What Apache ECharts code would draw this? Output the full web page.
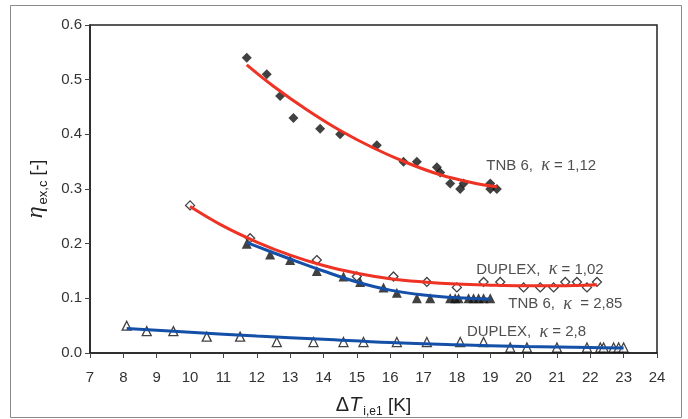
<!DOCTYPE html>
<html><head><meta charset="utf-8">
<script src="https://cdn.jsdelivr.net/npm/echarts@6/dist/echarts.min.js"></script>
<style>html,body{margin:0;padding:0;background:#fff}#c{width:688px;height:419px}</style>
</head><body><div id="c"></div>
<script>
// ---- data ----
const xTicks = [7,8,9,10,11,12,13,14,15,16,17,18,19,20,21,22,23,24];
const yTicks = [0.0,0.1,0.2,0.3,0.4,0.5,0.6];

// TNB 6, kappa = 1,12 (filled diamonds)
const tnb112X = [11.7,12.3,12.7,13.1,13.9,14.5,15.6,16.4,16.8,17.4,17.5,17.8,18.1,18.2,19.0,19.0,19.2];
const tnb112Y = [0.54,0.51,0.47,0.43,0.41,0.40,0.38,0.35,0.35,0.34,0.33,0.31,0.30,0.31,0.31,0.30,0.30];
// DUPLEX, kappa = 1,02 (open diamonds)
const dup102X = [10.0,11.8,13.8,15.0,16.1,17.1,18.0,18.8,19.3,20.0,20.5,20.9,21.25,21.6,21.9,22.2];
const dup102Y = [0.27,0.21,0.17,0.14,0.14,0.13,0.12,0.13,0.13,0.12,0.12,0.12,0.13,0.13,0.12,0.13];
// TNB 6, kappa = 2,85 (filled triangles)
const tnb285X = [11.7,12.4,13.0,13.8,14.6,15.1,15.8,16.2,16.8,17.2,17.8,17.95,18.05,18.35,18.5,18.65,18.8,19.0];
const tnb285Y = [0.20,0.18,0.17,0.15,0.14,0.13,0.12,0.11,0.10,0.10,0.10,0.10,0.10,0.10,0.10,0.10,0.10,0.10];
// DUPLEX, kappa = 2,8 (open triangles)
const dup28X = [8.1,8.7,9.5,10.5,11.5,12.6,13.7,14.6,15.2,16.2,17.1,18.1,18.8,19.6,20.1,21.0,21.9,22.3,22.4,22.7,22.85,23.0];
const dup28Y = [0.05,0.04,0.04,0.03,0.03,0.02,0.02,0.02,0.02,0.02,0.02,0.02,0.02,0.01,0.01,0.01,0.01,0.01,0.01,0.01,0.01,0.01];

// trend curves
const fit112X = [11.7,12.5,13.5,14.5,15.5,16.5,17.5,18.5,19.2];
const fit112Y = [0.527,0.488,0.445,0.407,0.375,0.348,0.326,0.311,0.304];
const fit102X = [10.0,11,12,13,14,15,16,17,18,19,20,21,22.2];
const fit102Y = [0.268,0.232,0.203,0.179,0.160,0.146,0.136,0.130,0.126,0.124,0.123,0.123,0.125];
const fit285X = [11.7,12,13,14,15,16,17,18,19.0];
const fit285Y = [0.202,0.195,0.172,0.150,0.130,0.115,0.106,0.101,0.099];
const fit28X = [8.1,10,12,14,16,18,20,22,23.0];
const fit28Y = [0.045,0.038,0.031,0.025,0.019,0.015,0.012,0.010,0.009];

// curve labels
const labelText = ['TNB 6,  ', 'DUPLEX,  ', 'TNB 6,  ', 'DUPLEX,  '];
const labelK = [' = 1,12', ' = 1,02', '  = 2,85', ' = 2,8'];
const labelX = [18.88, 18.58, 19.54, 18.3];
const labelY = [0.343, 0.153, 0.089, 0.038];

const zip = (a, b) => a.map((v, i) => [v, b[i]]);
const RED = '#ee3224', BLUE = '#1450a8';
const rich = {
  a: {fontFamily: 'Liberation Sans', fontSize: 15, color: '#222'},
  k: {fontFamily: 'Liberation Serif', fontStyle: 'italic', fontSize: 18, color: '#222'}
};

const chart = echarts.init(document.getElementById('c'), null, {renderer: 'canvas'});
function scatter(x, y, symbol, size, filled) {
  return {
    type: 'scatter', data: zip(x, y), symbol: symbol, symbolSize: size, z: 3,
    itemStyle: {color: filled ? '#111' : '#fff', borderColor: '#111', borderWidth: filled ? 0 : 1.3},
    emphasis: {disabled: true}
  };
}
function curve(x, y, color) {
  return {
    type: 'line', data: zip(x, y), smooth: 0.4, showSymbol: false, symbol: 'none', z: 4,
    lineStyle: {color: color, width: 3}, emphasis: {disabled: true}
  };
}
const labelSeries = {
  type: 'scatter', symbolSize: 0, z: 5, silent: true,
  data: labelX.map((x, i) => [x, labelY[i]]),
  label: {
    show: true, position: 'right', distance: 0,
    formatter: p => '{a|' + labelText[p.dataIndex] + '}{k|κ}{a|' + labelK[p.dataIndex] + '}',
    rich: rich
  }
};

chart.setOption({
  animation: false,
  backgroundColor: '#fff',
  grid: {left: 90, right: 31, top: 25, bottom: 66, containLabel: false, outerBoundsMode: 'none',
    show: true, borderColor: '#222', borderWidth: 1.5, backgroundColor: 'transparent'},
  xAxis: {
    type: 'value', min: 7, max: 24, interval: 1,
    name: '{d|Δ}{t|T}{s|i,e1}{b| [K]}', nameLocation: 'middle', nameGap: 36,
    nameTextStyle: {
      rich: {
        d: {fontFamily: 'Liberation Sans', fontSize: 20, color: '#222', lineHeight: 26, verticalAlign: 'bottom'},
        t: {fontFamily: 'Liberation Sans', fontStyle: 'italic', fontSize: 20, color: '#222', lineHeight: 26, verticalAlign: 'bottom'},
        s: {fontFamily: 'Liberation Sans', fontSize: 12, color: '#222', lineHeight: 16, verticalAlign: 'bottom', padding: [0, 0, -3, 2]},
        b: {fontFamily: 'Liberation Sans', fontSize: 19, color: '#222', lineHeight: 26, verticalAlign: 'bottom'}
      }
    },
    axisLine: {show: true, onZero: false, lineStyle: {color: '#222', width: 1.5}},
    axisTick: {show: true, inside: false, length: 5, lineStyle: {color: '#444', width: 1}},
    axisLabel: {margin: 17, color: '#333', fontFamily: 'Liberation Sans', fontSize: 15,
      formatter: v => xTicks.includes(v) ? String(v) : ''},
    splitLine: {show: false}
  },
  yAxis: {
    type: 'value', min: 0, max: 0.6, interval: 0.1,
    name: '{e|η}{s|ex,c}{b| [-]}', nameLocation: 'middle', nameGap: 42, nameRotate: 90,
    nameTextStyle: {
      rich: {
        e: {fontFamily: 'Liberation Serif', fontStyle: 'italic', fontSize: 24, color: '#222', lineHeight: 26, verticalAlign: 'bottom'},
        s: {fontFamily: 'Liberation Sans', fontSize: 13, color: '#222', lineHeight: 16, verticalAlign: 'bottom', padding: [0, 0, -3, 2]},
        b: {fontFamily: 'Liberation Sans', fontSize: 18, color: '#222', lineHeight: 26, verticalAlign: 'bottom'}
      }
    },
    axisLine: {show: true, onZero: false, lineStyle: {color: '#222', width: 1.5}},
    axisTick: {show: true, inside: false, length: 5, lineStyle: {color: '#444', width: 1}},
    axisLabel: {margin: 8, color: '#333', fontFamily: 'Liberation Sans', fontSize: 15,
      formatter: v => yTicks.some(t => Math.abs(t - v) < 1e-9) ? v.toFixed(1) : ''},
    splitLine: {show: false}
  },
  graphic: [{
    type: 'rect', shape: {x: 10.5, y: 5.5, width: 671, height: 412}, silent: true, z: -1,
    style: {fill: 'none', stroke: '#8a8a8a', lineWidth: 1}
  }],
  series: [
    scatter(tnb112X, tnb112Y, 'diamond', 10, true),
    scatter(dup102X, dup102Y, 'diamond', 9, false),
    scatter(tnb285X, tnb285Y, 'triangle', 10, true),
    scatter(dup28X, dup28Y, 'triangle', 9, false),
    curve(fit112X, fit112Y, RED),
    curve(fit102X, fit102Y, RED),
    curve(fit285X, fit285Y, BLUE),
    curve(fit28X, fit28Y, BLUE),
    labelSeries
  ]
});
</script></body></html>
